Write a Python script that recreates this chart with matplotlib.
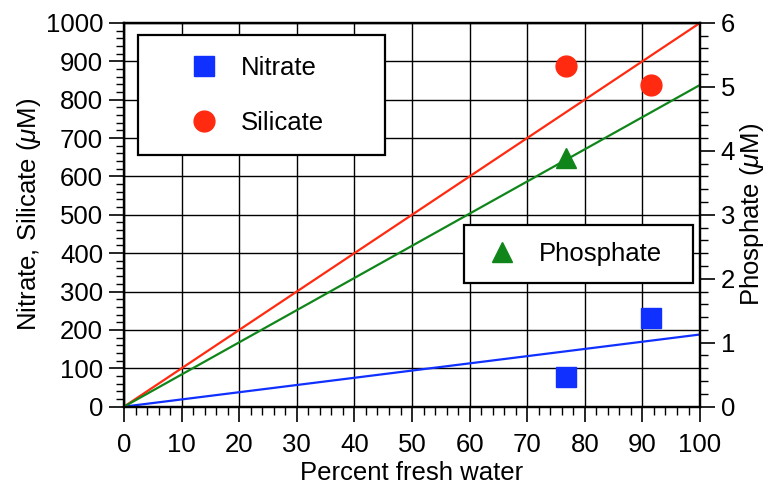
import numpy as np
import matplotlib
matplotlib.use("Agg")
import matplotlib.pyplot as plt
from matplotlib.ticker import MultipleLocator
from matplotlib.lines import Line2D

plt.rcParams["font.family"] = ["Liberation Sans", "DejaVu Sans"]
plt.rcParams["mathtext.fontset"] = "custom"
plt.rcParams["mathtext.it"] = "Liberation Sans:italic"

# sample points (percent fresh water)
sample_x = [76.7, 91.5]
nitrate = [78, 230]        # uM
silicate = [887, 838]      # uM
phosphate_x = [76.7]
phosphate = [3.89]         # uM (right axis)

# mixing lines
line_x = [0, 100]
nitrate_line = [0, 188]
silicate_line = [0, 1000]
phosphate_line = [0, 5.03]

blue = "#1030ff"
red = "#ff2a10"
green = "#10861a"
fs = 18.5

fig = plt.figure(figsize=(7.68, 4.87), dpi=100)
ax = fig.add_axes([0.1615, 0.165, 0.75, 0.788])
ax2 = ax.twinx()

ax.set_xlim(0, 100)
ax.set_ylim(0, 1000)
ax2.set_ylim(0, 6)

ax.grid(True, which="major", color="black", linewidth=1.0)
ax.set_axisbelow(True)

ax.plot(line_x, silicate_line, color=red, linewidth=1.6)
ax.plot(line_x, nitrate_line, color=blue, linewidth=1.6)
ax2.plot(line_x, phosphate_line, color=green, linewidth=1.6)

ax.plot(sample_x, nitrate, "s", color=blue, markersize=14, linestyle="none")
ax.plot(sample_x, silicate, "o", color=red, markersize=15, linestyle="none")
ax2.plot(phosphate_x, phosphate, "^", color=green, markersize=14, linestyle="none")

ax.xaxis.set_major_locator(MultipleLocator(10))
ax.xaxis.set_minor_locator(MultipleLocator(2))
ax.yaxis.set_major_locator(MultipleLocator(100))
ax.yaxis.set_minor_locator(MultipleLocator(20))
ax2.yaxis.set_major_locator(MultipleLocator(1))
ax2.yaxis.set_minor_locator(MultipleLocator(0.2))

for a in (ax, ax2):
    a.tick_params(which="major", direction="out", length=11, width=1.2,
                  labelsize=fs, pad=4)
    a.tick_params(which="minor", direction="out", length=6, width=1.0)
    for s in a.spines.values():
        s.set_linewidth(1.6)
ax.tick_params(axis="y", right=False)
ax.tick_params(axis="x", top=False, pad=8)

ax.set_xlabel("Percent fresh water", fontsize=fs, labelpad=3)
ax.set_ylabel(r"Nitrate, Silicate ($\mu$M)", fontsize=fs, labelpad=2)
ax2.set_ylabel(r"Phosphate ($\mu$M)", fontsize=fs, labelpad=2)

h1 = [Line2D([], [], marker="s", color=blue, markersize=14, linestyle="none"),
      Line2D([], [], marker="o", color=red, markersize=15, linestyle="none")]
leg1 = ax2.legend(h1, ["Nitrate", "Silicate"], loc="upper left",
                  bbox_to_anchor=(0.0243, 0.0, 0.429, 0.968), mode="expand",
                  borderaxespad=0, fontsize=fs, frameon=True, fancybox=False,
                  labelspacing=1.2, handletextpad=-0.3, borderpad=0.8,
                  handlelength=3.5)
leg1.get_frame().set_edgecolor("black")
leg1.get_frame().set_linewidth(1.6)
leg1.get_frame().set_alpha(1)
ax2.add_artist(leg1)

h2 = [Line2D([], [], marker="^", color=green, markersize=14, linestyle="none")]
leg2 = ax2.legend(h2, ["Phosphate"], loc="upper left",
                  bbox_to_anchor=(0.590, 0.0, 0.3976, 0.473), mode="expand",
                  borderaxespad=0, fontsize=fs, frameon=True, fancybox=False,
                  handletextpad=0.6, borderpad=0.65, handlelength=1.65)
leg2.get_frame().set_edgecolor("black")
leg2.get_frame().set_linewidth(1.6)
leg2.get_frame().set_alpha(1)

fig.savefig("out.png", dpi=100)
